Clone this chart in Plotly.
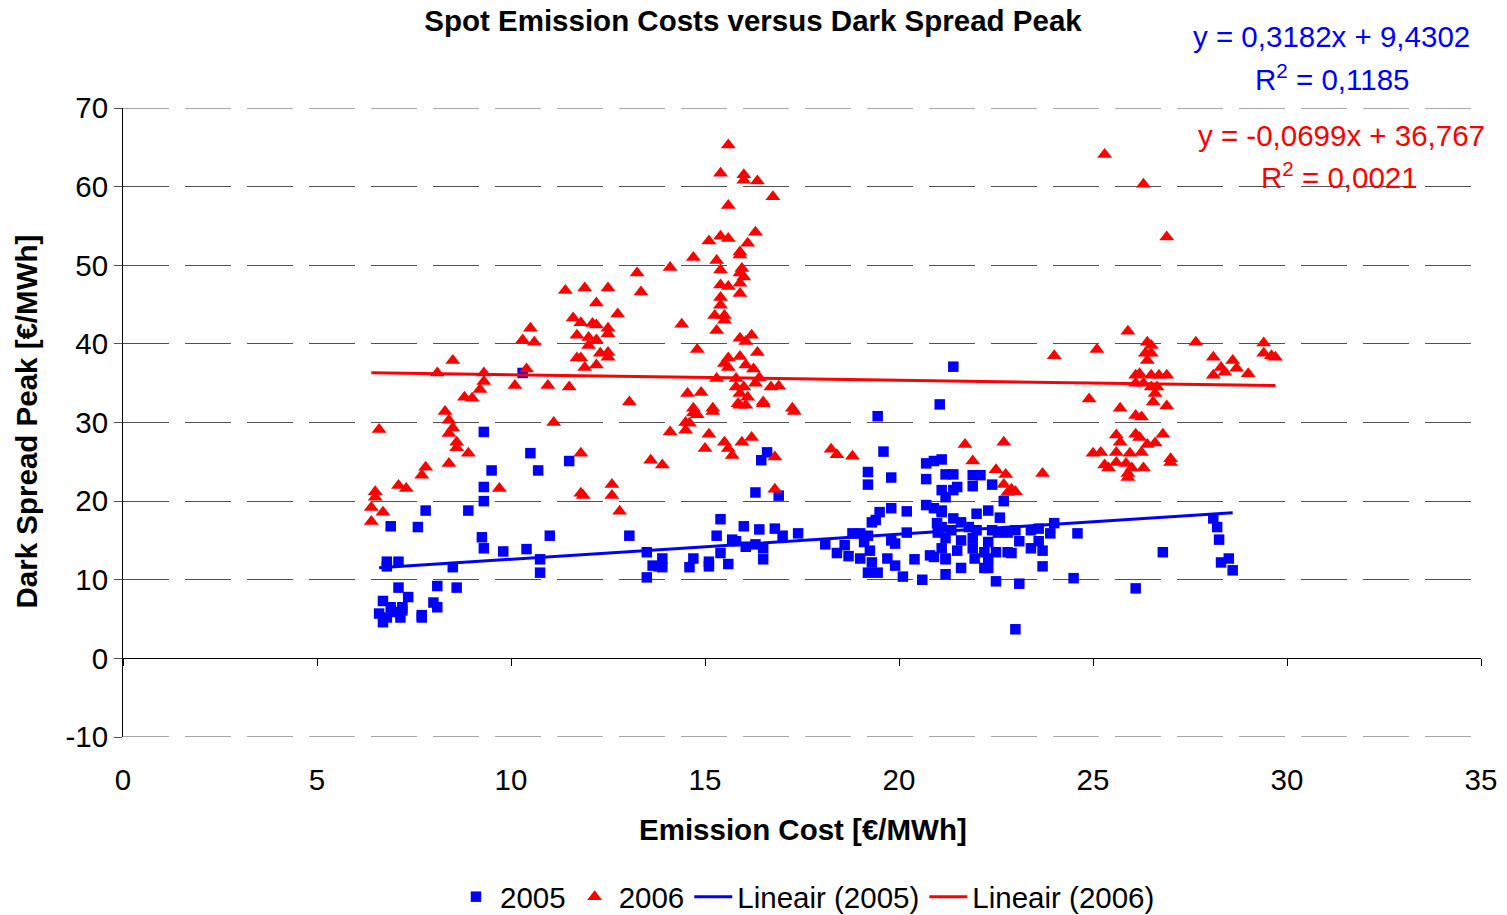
import plotly.graph_objects as go
import numpy as np

# ---- data ----
pts_2005 = [
    (10.3,36.3),(9.3,28.8),(10.5,26.1),(9.5,23.9),(9.3,21.8),(9.3,20.0),(7.8,18.8),(8.9,18.8),(6.9,16.8),(7.6,16.7),
    (9.25,15.4),(9.3,14.0),(9.8,13.6),(10.4,13.9),(6.8,12.3),(7.1,12.3),(6.8,11.7),(8.5,11.6),(7.1,9.0),(8.1,9.2),
    (8.6,9.0),(7.35,7.8),(6.7,7.3),(6.9,6.5),(7.2,6.1),(6.6,5.7),(6.8,5.2),(7.15,5.2),(6.7,4.6),(8.0,7.1),
    (8.1,6.5),(7.7,5.5),(7.7,5.2),(6.95,5.9),(7.2,6.5),
    (10.7,23.9),(11.5,25.1),(11.0,15.6),(10.75,12.6),(10.75,10.9),(13.05,15.6),(13.5,13.5),(13.9,12.7),(13.65,11.8),
    (13.8,11.7),(13.5,10.3),
    (16.6,26.2),(16.45,25.2),(16.3,21.1),(16.9,20.7),(15.4,17.7),(15.3,15.6),(16.0,16.8),(16.4,16.4),(16.8,16.5),
    (17.4,15.9),(17.0,15.6),(15.7,15.1),(15.8,14.9),(16.05,14.2),(16.3,14.5),(16.5,14.0),(15.4,13.4),(16.5,12.6),
    (14.7,12.7),(14.6,11.6),(15.1,12.3),(15.1,11.7),(15.6,12.0),(13.9,11.6),
    (19.45,30.8),(21.05,32.3),(19.6,26.3),(19.2,23.7),(19.2,22.1),(19.8,23.0),(20.7,24.8),(20.9,25.1),(21.1,25.3),
    (20.7,22.8),(21.2,23.4),(19.5,18.6),(19.8,19.1),(20.2,18.7),(19.3,17.3),(19.4,17.6),(20.7,19.5),(20.9,19.1),
    (21.1,18.6),(18.8,15.9),(19.0,15.9),(19.2,15.6),(20.2,16.0),(20.98,17.2),(21.0,16.0),(18.1,14.5),(18.6,14.4),
    (19.1,14.8),(19.8,15.0),(19.9,14.6),(18.4,13.4),(18.7,13.0),(19.0,12.7),(19.25,13.7),(19.3,12.2),(19.7,12.7),
    (19.9,11.8),(20.4,12.6),(20.8,13.1),(20.9,12.9),(21.2,12.6),(19.2,10.9),(19.45,10.9),(20.1,10.4),(20.6,10.0),
    (21.2,10.7),
    (21.4,37.1),(21.4,23.4),(21.9,23.3),(22.1,23.3),(21.9,21.9),(22.4,22.1),(21.5,21.8),(21.4,21.4),(21.1,21.4),
    (21.2,20.5),(22.7,20.0),(21.1,18.8),(21.4,17.8),(21.6,17.3),(22.0,18.4),(22.3,18.8),(22.6,17.9),(21.1,16.7),
    (21.35,16.3),(21.8,16.7),(22.0,16.3),(22.4,16.3),(22.55,16.0),(23.0,16.3),(23.4,16.3),(23.6,16.5),(24.0,17.2),
    (23.9,15.9),(24.6,15.9),(21.2,15.3),(21.6,15.0),(21.9,15.3),(22.3,14.8),(22.8,16.0),(23.1,14.9),(23.6,14.9),
    (21.1,14.0),(21.5,13.7),(21.9,14.0),(22.2,13.5),(22.5,13.5),(22.8,13.5),(23.4,14.0),(23.7,13.7),(21.2,12.7),
    (21.95,12.7),(22.3,12.7),(22.9,13.4),(21.6,11.5),(22.2,11.5),(22.3,11.5),(23.7,11.7),(22.5,9.8),(23.1,9.5),
    (24.5,10.2),(23.0,3.7),
    (26.8,13.5),(26.1,8.9),(28.1,17.8),(28.2,16.7),(28.25,15.1),(28.3,12.2),(28.5,12.7),(28.6,11.2),
]

pts_2006 = [
    (8.5,37.9),(8.1,36.3),(9.3,36.3),(9.3,35.2),(9.2,34.2),(8.8,33.2),(9.0,33.1),(8.3,31.4),(8.4,30.3),(8.5,29.3),
    (8.4,28.6),(8.6,27.5),(8.6,26.8),(8.9,26.1),(8.4,24.8),(7.8,24.3),(7.7,23.3),(7.1,22.0),(7.3,21.6),(9.7,21.6),
    (6.5,21.2),(6.5,20.5),(6.4,19.2),(6.7,18.6),(6.4,17.4),(6.6,29.1),(10.1,34.7),(10.4,36.8),
    (11.4,46.8),(11.9,47.1),(12.5,47.1),(13.25,49.0),(13.35,46.6),(12.2,45.2),(12.75,43.8),(11.6,43.3),(11.8,42.7),
    (12.1,42.6),(12.2,42.4),(12.5,42.0),(11.7,41.1),(12.0,40.8),(12.2,40.5),(12.0,39.8),(12.5,41.3),(12.3,38.8),
    (12.5,38.9),(11.7,38.2),(11.8,38.2),(11.9,37.0),(12.2,37.3),(12.5,38.3),(10.5,42.0),(10.6,40.2),(10.3,40.5),
    (10.95,34.7),(11.5,34.5),(13.05,32.6),(11.1,30.0),(14.1,28.8),(11.8,26.1),(13.6,25.2),(13.9,24.6),(11.8,21.0),
    (11.86,20.7),(12.6,22.1),(12.6,20.7),(12.8,18.7),
    (15.6,65.3),(15.4,61.7),(16.0,61.5),(16.0,60.8),(16.35,60.7),(16.75,58.7),(15.6,57.6),(16.3,54.2),(15.4,53.7),
    (15.6,53.4),(15.1,53.1),(16.1,52.8),(14.7,51.0),(15.9,51.7),(15.9,51.3),(14.1,49.7),(15.3,50.6),(15.4,49.4),
    (15.95,49.6),(15.9,49.0),(16.0,48.5),(15.9,47.7),(15.4,47.5),(15.6,47.3),(15.9,46.4),(15.4,45.9),(15.4,44.9),
    (15.25,43.6),(15.5,43.6),(15.5,43.0),(15.3,41.7),(14.4,42.5),(15.9,40.7),(16.2,41.1),(16.05,40.3),(14.8,39.3),
    (16.35,38.9),(15.5,37.5),(15.6,38.2),(15.9,38.4),(15.6,37.0),(16.05,37.3),(16.25,36.8),(15.3,35.6),(15.8,35.6),
    (16.4,35.7),(15.8,34.5),(16.0,34.5),(16.3,35.0),(16.7,34.5),(16.9,34.6),(14.55,33.7),(14.9,33.8),(15.9,33.7),
    (16.1,33.2),(16.5,32.6),(14.7,31.8),(15.2,31.8),(15.9,32.2),(17.25,31.8),
    (14.7,31.2),(14.8,31.0),(15.2,31.4),(14.5,30.0),(14.6,29.9),(14.5,29.0),(15.1,28.5),(15.5,27.5),(15.0,26.7),
    (15.6,26.7),(15.7,25.8),(15.95,27.5),(16.2,28.1),(16.8,25.6),(16.8,21.5),(15.85,32.4),(16.05,32.2),(16.5,32.4),
    (17.3,31.4),(18.25,26.6),(18.4,25.9),(18.8,25.7),
    (24.0,38.5),(21.7,27.2),(22.7,27.5),(21.9,25.1),(22.5,24.0),(22.75,23.4),(23.7,23.5),(22.7,22.1),(22.8,21.1),
    (22.9,21.5),(23.0,21.2),
    (25.3,64.1),(26.3,60.3),(26.9,53.6),(25.9,41.6),(25.1,39.3),(26.4,40.2),(26.5,39.8),(26.35,38.8),(26.5,38.8),
    (26.4,37.9),(27.65,40.2),(29.4,40.1),(29.4,38.8),(29.6,38.5),(29.7,38.3),(28.1,38.3),(28.6,37.9),(28.3,37.0),
    (28.7,36.9),(28.4,36.4),(28.1,36.0),(29.0,36.2),(26.1,36.0),(26.2,36.2),(26.5,36.0),(26.7,36.0),(26.9,36.0),
    (26.1,35.0),(26.3,35.0),(26.5,34.5),(26.65,34.5),(26.6,33.7),(26.55,32.6),(26.9,32.1),(24.9,33.0),(25.7,31.8),
    (26.1,30.9),(26.25,30.7),(25.6,28.4),(26.1,28.5),(26.2,28.1),(26.8,28.5),(25.7,27.5),(26.4,27.2),(26.6,27.4),
    (25.0,26.1),(25.2,26.2),(25.6,26.2),(25.95,26.1),(26.25,26.2),(25.6,24.9),(25.85,24.8),(25.3,24.6),(25.4,24.2),
    (26.3,24.2),(26.0,24.2),(27.0,25.4),(27.0,24.9),(25.9,23.0),(25.9,23.5),
]

x05 = [p[0] for p in pts_2005]
y05 = [p[1] for p in pts_2005]
x06 = [p[0] for p in pts_2006]
y06 = [p[1] for p in pts_2006]

# trendline coefficients (as shown on the chart)
slope05, icpt05, r2_05 = 0.3182, 9.4302, "0,1185"
slope06, icpt06, r2_06 = -0.0699, 36.767, "0,0021"

x_ticks = [0, 5, 10, 15, 20, 25, 30, 35]
y_ticks = [-10, 0, 10, 20, 30, 40, 50, 60, 70]

BLUE = "#0000FF"
RED = "#FF0000"
GRID = "#505050"
FONT = "Arial, 'Liberation Sans', sans-serif"
FS = 29.5

W, H = 1499, 907  # page body adds an 8px margin

lx05 = np.array([min(x05), max(x05)])
lx06 = np.array([min(x06), max(x06)])

fig = go.Figure()
fig.add_trace(go.Scatter(x=x05, y=y05, mode="markers", name="2005",
                         marker=dict(symbol="square", size=10.5, color=BLUE)))
fig.add_trace(go.Scatter(x=x06, y=y06, mode="markers", name="2006",
                         marker=dict(symbol="triangle-up", size=13, color=RED)))
fig.add_trace(go.Scatter(x=lx05, y=slope05 * lx05 + icpt05, mode="lines", name="Lineair (2005)",
                         line=dict(color=BLUE, width=3)))
fig.add_trace(go.Scatter(x=lx06, y=slope06 * lx06 + icpt06, mode="lines", name="Lineair (2006)",
                         line=dict(color=RED, width=3)))
# helper trace for the axis drawn along y = 0
fig.add_trace(go.Scatter(x=[None], y=[None], xaxis="x2", showlegend=False, hoverinfo="skip"))

fig.update_layout(
    width=W, height=H, autosize=False,
    margin=dict(l=115, r=26, t=100, b=178),
    paper_bgcolor="white", plot_bgcolor="white",
    font=dict(family=FONT, size=FS, color="black"),
    title=dict(text="<b>Spot Emission Costs versus Dark Spread Peak</b>",
               x=(753 - 8) / W, xref="container", xanchor="center",
               y=1 - 13 / H, yref="container", yanchor="middle",
               font=dict(size=FS, family=FONT)),
    xaxis=dict(range=[0, 35], tickvals=x_ticks, ticktext=[str(v) for v in x_ticks],
               showgrid=False, zeroline=False, showline=False, automargin=False,
               ticks="outside", ticklen=17, tickcolor="rgba(0,0,0,0)",
               tickfont=dict(size=FS)),
    xaxis2=dict(range=[0, 35], tickvals=x_ticks, overlaying="x", anchor="free", position=0.125,
                showgrid=False, zeroline=False, showline=True, linecolor="black", linewidth=1,
                automargin=False,
                ticks="outside", ticklen=7, tickcolor="black", showticklabels=False),
    yaxis=dict(range=[-10, 70], tickvals=y_ticks, ticktext=[str(v) for v in y_ticks],
               showgrid=True, gridcolor=GRID, gridwidth=1,
               griddash="46px,16px", zeroline=False, showline=True, linecolor="black", linewidth=1,
               automargin=False,
               ticks="outside", ticklen=8, tickcolor=GRID, tickfont=dict(size=FS)),
    legend=dict(orientation="h", xref="container", x=(806 - 8) / W, xanchor="center",
                yref="container", y=1 - (897 - 8) / H, yanchor="middle",
                font=dict(size=FS), itemwidth=38, tracegroupgap=0, bgcolor="rgba(0,0,0,0)"),
    showlegend=True,
)

# dashed gridlines at the range edges (plotly omits them)
for yv in (y_ticks[0], y_ticks[-1]):
    fig.add_shape(type="line", xref="paper", yref="y", x0=0, x1=1, y0=yv, y1=yv,
                  line=dict(color=GRID, width=1, dash="46px,16px"), layer="below")

ann = [
    dict(text="<b>Emission Cost [€/MWh]</b>", x=0.5007, y=-0.147, textangle=0),
    dict(text="<b>Dark Spread Peak [€/MWh]</b>", x=-0.071, y=0.501, textangle=-90),
]
for a in ann:
    fig.add_annotation(xref="paper", yref="paper", showarrow=False, xanchor="center", yanchor="middle",
                       font=dict(size=FS, family=FONT, color="black"), **a)

def eq_text(s, b):
    sign = "+" if b >= 0 else "-"
    return f"y = {s:.4f}x {sign} {abs(b):g}".replace(".", ",")

eqs = [
    (eq_text(slope05, icpt05), 0.890, 1.113, BLUE),
    (f"R<sup>2</sup> = {r2_05}", 0.890, 1.049, BLUE),
    (eq_text(slope06, icpt06), 0.897, 0.957, RED),
    (f"R<sup>2</sup> = {r2_06}", 0.896, 0.892, RED),
]
for t, x, y, c in eqs:
    fig.add_annotation(text=t, x=x, y=y, xref="paper", yref="paper", showarrow=False,
                       xanchor="center", yanchor="middle", font=dict(size=FS, family=FONT, color=c))

fig.write_html("out.html")
